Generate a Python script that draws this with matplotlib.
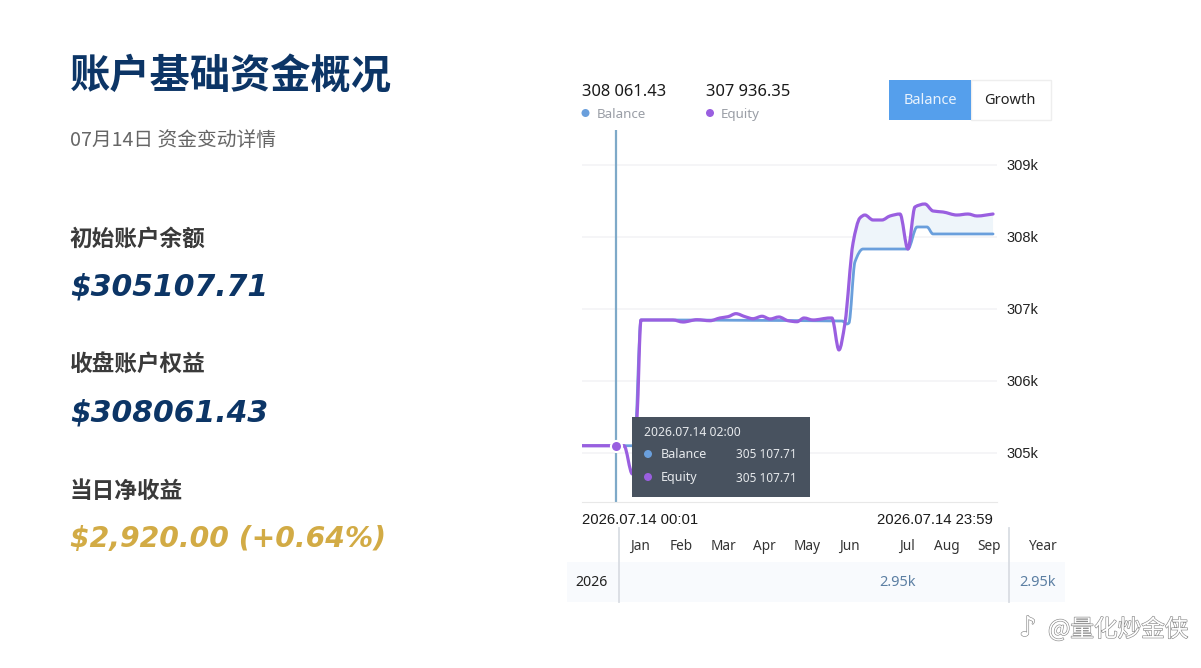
"""Daily account summary slide: headline figures on the left, equity chart on the right."""

import matplotlib

matplotlib.use("Agg")

import matplotlib.patheffects as pe
import matplotlib.pyplot as plt
from matplotlib.patches import Circle, PathPatch, Rectangle
from matplotlib.path import Path
from matplotlib.transforms import ScaledTranslation

plt.rcParams["font.family"] = ["Noto Sans CJK SC", "DejaVu Sans"]

WIDTH, HEIGHT = 1201, 668

# hour of day, account value
equity_hours = [0, 2.0, 2.44, 2.93, 3.2, 3.43, 5.29, 5.87, 6.69, 7.44, 8.02, 8.49, 8.95, 9.48,
                9.94, 10.47, 10.93, 11.45, 11.98, 12.5, 12.91, 13.43, 14.42, 14.53, 14.94,
                15.29, 15.76, 16.16, 16.45, 16.92, 17.44, 17.91, 18.49, 18.95, 19.36, 19.94,
                20.41, 20.99, 21.8, 22.44, 22.97, 23.9]
equity_values = [305107.71, 305107.71, 305107.71, 304715, 305500, 306854, 306854, 306826, 306858,
                 306844, 306882, 306900, 306942, 306900, 306872, 306906, 306868, 306896, 306844,
                 306830, 306882, 306854, 306882, 306882, 306438, 306812, 307924, 308271, 308312,
                 308243, 308243, 308299, 308326, 307840, 308424, 308465, 308368, 308354, 308312,
                 308326, 308299, 308326]
balance_hours = [0, 3.05, 3.43, 15.12, 15.41, 15.52, 15.87, 16.34, 18.95, 19.48, 20.06,
                 20.41, 23.9]
balance_values = [305107.71, 305107.71, 306854, 306840, 306799, 306812, 307660, 307840,
                  307840, 308146, 308146, 308049, 308049]

y_ticks = [305000, 306000, 307000, 308000, 309000]
crosshair_hour = 2.0
crosshair_value = 305107.71

months = ["Jan", "Feb", "Mar", "Apr", "May", "Jun", "Jul", "Aug", "Sep", "Year"]
month_px = [640, 681, 723, 764, 807, 849, 907, 947, 989, 1043]

BALANCE_COLOR = "#6a9fdc"
EQUITY_COLOR = "#9a5fe0"
NAVY = "#0c3566"
GOLD = "#d2ab45"
UI_FONT = ["Noto Sans", "DejaVu Sans"]
ARIAL = ["Liberation Sans", "DejaVu Sans"]


def spline_segments(xs, ys):
    """Bezier control points for a monotone spline through the points, without the start point."""
    secants = [(ys[i + 1] - ys[i]) / (xs[i + 1] - xs[i]) for i in range(len(xs) - 1)]
    slopes = [secants[0]]
    for a, b in zip(secants, secants[1:]):
        slopes.append(2 * a * b / (a + b) if a * b > 0 else 0.0)
    slopes.append(secants[-1])
    verts = []
    for i in range(len(xs) - 1):
        dx = (xs[i + 1] - xs[i]) / 3
        verts.append((xs[i] + dx, ys[i] + slopes[i] * dx))
        verts.append((xs[i + 1] - dx, ys[i + 1] - slopes[i + 1] * dx))
        verts.append((xs[i + 1], ys[i + 1]))
    return verts


def spline_path(xs, ys):
    verts = [(xs[0], ys[0])] + spline_segments(xs, ys)
    return Path(verts, [Path.MOVETO] + [Path.CURVE4] * (len(verts) - 1))


def band_path(x_top, y_top, x_low, y_low):
    """Closed outline running along the top curve and back along the low curve."""
    top_part = spline_segments(x_top, y_top)
    low_part = spline_segments(x_low[::-1], y_low[::-1])
    verts = [(x_top[0], y_top[0])] + top_part + [(x_low[-1], y_low[-1])] + low_part + [(x_top[0], y_top[0])]
    codes = ([Path.MOVETO] + [Path.CURVE4] * len(top_part) + [Path.LINETO]
             + [Path.CURVE4] * len(low_part) + [Path.CLOSEPOLY])
    return Path(verts, codes)


fig = plt.figure(figsize=(WIDTH / 100, HEIGHT / 100), dpi=100, facecolor="white")

# chart panel, placed in pixels
left, right, top, bottom = 582, 997, 130, 502
ax = fig.add_axes([left / WIDTH, 1 - bottom / HEIGHT, (right - left) / WIDTH, (bottom - top) / HEIGHT])
ax.set_xlim(0, 24.13)
ax.set_ylim(304326, 309493)
ax.add_patch(PathPatch(band_path(equity_hours[25:], equity_values[25:], balance_hours[5:], balance_values[5:]),
                       fc="#eef5fa", lw=0, zorder=1))
ax.yaxis.tick_right()
ax.set_yticks(y_ticks)
ax.set_yticklabels([f"{v // 1000}k" for v in y_ticks], fontsize=10.5, family=ARIAL, color="#222222")
ax.tick_params(axis="y", length=0, pad=6.5)
nudge = ScaledTranslation(0, 1 / 100, fig.dpi_scale_trans)
for tick_label in ax.get_yticklabels():
    tick_label.set_transform(tick_label.get_transform() + nudge)
ax.set_xticks([])
ax.grid(True, axis="y", color="#f2f3f5", lw=1.1)
ax.set_axisbelow(True)
for side in ["top", "left", "right"]:
    ax.spines[side].set_visible(False)
ax.spines["bottom"].set_color("#e8e8e8")

ax.axvline(crosshair_hour, color="#7ea9c8", lw=1.6, zorder=2)
ax.add_patch(PathPatch(spline_path(balance_hours, balance_values), fc="none", ec=BALANCE_COLOR, lw=2.0,
                       capstyle="round", joinstyle="round", zorder=3))
ax.add_patch(PathPatch(spline_path(equity_hours, equity_values), fc="none", ec=EQUITY_COLOR, lw=2.3,
                       capstyle="round", joinstyle="round", zorder=4))
ax.plot([crosshair_hour], [crosshair_value], "o", ms=8, mfc=EQUITY_COLOR, mec="white", mew=1.5, zorder=5)

# everything else sits on a full-figure overlay in pixel coordinates
ov = fig.add_axes([0, 0, 1, 1], facecolor="none")
ov.set_xlim(0, WIDTH)
ov.set_ylim(HEIGHT, 0)
ov.axis("off")


def label(x, y, text, size, color="#222222", weight="normal", ha="left", family=None, **kw):
    ov.text(x, y, text, fontsize=size, color=color, fontweight=weight, ha=ha, va="center",
            family=family or plt.rcParams["font.family"], **kw)


# left column
label(70, 76.5, "账户基础资金概况", 29, NAVY, "bold")
label(70, 140, "07月14日 资金变动详情", 14.2, "#666666")
label(70, 239, "初始账户余额", 16.3, "#3a3a3a", "bold")
label(70, 365, "收盘账户权益", 16.3, "#3a3a3a", "bold")
label(70, 491, "当日净收益", 16.3, "#3a3a3a", "bold")
label(70, 287, "$305107.71", 21.5, NAVY, "bold", family="DejaVu Sans", style="oblique")
label(70, 413, "$308061.43", 21.5, NAVY, "bold", family="DejaVu Sans", style="oblique")
label(70, 539, "$2,920.00 (+0.64%)", 20.3, GOLD, "bold", family="DejaVu Sans", style="oblique")

# chart header
label(582, 91.5, "308 061.43", 11.9, "#1a1a1a", family=UI_FONT)
label(706, 91.5, "307 936.35", 11.9, "#1a1a1a", family=UI_FONT)
ov.add_patch(Circle((585.5, 113), 4, color=BALANCE_COLOR, lw=0))
ov.add_patch(Circle((710, 113), 4, color=EQUITY_COLOR, lw=0))
label(597, 114.5, "Balance", 9.6, "#9a9ea6", family=UI_FONT)
label(721, 114.5, "Equity", 9.6, "#9a9ea6", family=UI_FONT)

ov.add_patch(Rectangle((971, 80), 80, 40, fc="white", ec="#eeeeee", lw=1))
ov.add_patch(Rectangle((889, 80), 82, 40, fc="#559fec", lw=0))
label(930, 101, "Balance", 10.5, "#e8f2fd", ha="center", family=UI_FONT)
label(1010, 101, "Growth", 10.5, "#222222", ha="center", family=UI_FONT)

# hover tooltip
ov.add_patch(Rectangle((632, 417), 178, 80, fc="#48525f", lw=0))
label(644, 432, "2026.07.14 02:00", 8.8, "#e6e9ec", family=UI_FONT)
ov.add_patch(Circle((648, 454), 4, color=BALANCE_COLOR, lw=0))
ov.add_patch(Circle((648, 477), 4, color=EQUITY_COLOR, lw=0))
label(661, 455, "Balance", 9.0, "#e6e9ec", family=UI_FONT)
label(661, 478, "Equity", 9.0, "#e6e9ec", family=UI_FONT)
label(797, 455, "305 107.71", 8.5, "#e6e9ec", ha="right", family=UI_FONT)
label(797, 478, "305 107.71", 8.5, "#e6e9ec", ha="right", family=UI_FONT)

# date range under the chart
label(582, 519.5, "2026.07.14 00:01", 10.75, "#1a1a1a", family=ARIAL)
label(993, 519.5, "2026.07.14 23:59", 10.75, "#1a1a1a", ha="right", family=ARIAL)

# monthly returns table
ov.add_patch(Rectangle((567, 562), 498, 40, fc="#f8fafd", lw=0))
for x in (619, 1009):
    ov.plot([x, x], [528, 602], color="#d9dde3", lw=1.3)
for name, x in zip(months, month_px):
    label(x, 546.5, name, 9.8, "#333333", ha="center", family=UI_FONT)
label(592, 583, "2026", 10.2, "#222222", ha="center", family=UI_FONT)
label(898, 583, "2.95k", 10.5, "#5c7fa3", ha="center", family=UI_FONT)
label(1037, 583, "2.95k", 10.5, "#5c7fa3", ha="center", family=UI_FONT)

# embossed account tag
tag_fx = [pe.withStroke(linewidth=0.9, foreground="#8a8a8a")]
label(1019, 628, "♪", 20, "white", family="DejaVu Sans", path_effects=tag_fx)
label(1048, 629, "@量化炒金侠", 17, "white", path_effects=tag_fx)

fig.savefig("out.png", dpi=100)
